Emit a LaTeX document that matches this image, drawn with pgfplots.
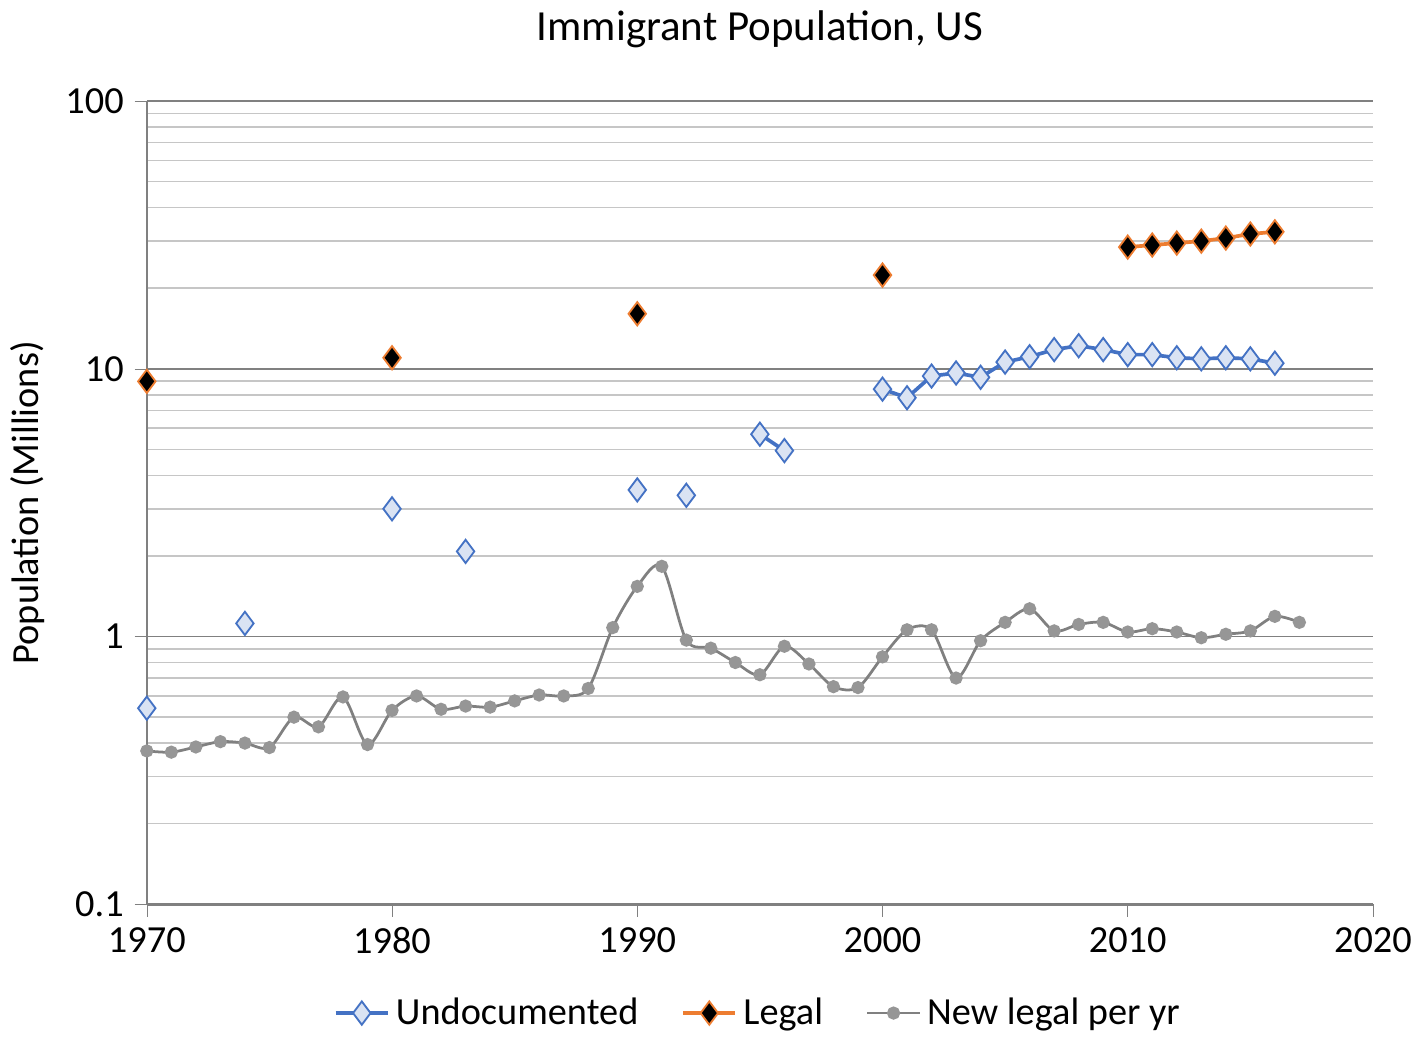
\documentclass[border=0pt]{standalone}
\usepackage{pgfplots}
\pgfplotsset{compat=1.18}
\usepackage{fontspec}
\setmainfont{Carlito}
\definecolor{ublue}{RGB}{68,114,196}
\definecolor{ufill}{RGB}{218,227,243}
\definecolor{lorange}{RGB}{237,125,49}
\definecolor{ngray}{RGB}{150,150,150}
\definecolor{gline}{RGB}{128,128,128}
\begin{document}
\begin{tikzpicture}
\begin{axis}[
  scale only axis, width=400pt, height=262pt,
  ymode=log, xmin=1970, xmax=2020, ymin=0.1, ymax=100,
  xtick={1970,1980,...,2020}, x tick label style={/pgf/number format/1000 sep={}},
  ytick={0.1,1,10,100}, yticklabels={0.1,1,10,100},
  log ticks with fixed point,
  /pgf/number format/assume math mode=true,
  ymajorgrids, yminorgrids,
  major grid style={gline, line width=0.6pt},
  minor grid style={gray!45, line width=0.5pt},
  axis x line*=bottom, axis y line*=left,
  axis line style={gline, line width=0.8pt},
  tick style={gline}, major tick length=4pt, minor tick length=0pt,
  xtick align=outside, ytick align=outside,
  every tick label/.append style={font=\fontsize{12.5}{14}\selectfont},
  ylabel={Population (Millions)}, ylabel style={font=\fontsize{12.5}{14}\selectfont},
  title={Immigrant Population, US}, title style={font=\fontsize{14}{16}\selectfont, yshift=8pt},
  unbounded coords=jump,
  legend style={at={(0.5,-0.1)}, anchor=north, draw=none, legend columns=-1,
    font=\fontsize{12.5}{14}\selectfont, /tikz/every even column/.append style={column sep=12pt}},
]
\addplot[ublue, line width=1.2pt, mark=diamond*, mark size=3.8pt, mark options={fill=ufill, draw=ublue, line width=0.6pt}] coordinates {
(1970,0.54) (1971,nan) (1974,1.12) (1975,nan) (1980,3.0) (1981,nan) (1983,2.08) (1984,nan)
(1990,3.53) (1991,nan) (1992,3.37) (1993,nan) (1995,5.7) (1996,4.95) (1997,nan)
(2000,8.4) (2001,7.8) (2002,9.4) (2003,9.65) (2004,9.3) (2005,10.6) (2006,11.1) (2007,11.8)
(2008,12.2) (2009,11.8) (2010,11.3) (2011,11.3) (2012,11.0) (2013,10.9) (2014,11.0) (2015,10.9) (2016,10.5)};
\addlegendentry{Undocumented}
\addplot[lorange, line width=1.2pt, mark=diamond*, mark size=3.8pt, mark options={fill=black, draw=lorange, line width=0.6pt}] coordinates {
(1970,8.98) (1971,nan) (1980,11.0) (1981,nan) (1990,16.06) (1991,nan) (2000,22.4) (2001,nan)
(2010,28.5) (2011,29.0) (2012,29.5) (2013,30.0) (2014,30.8) (2015,31.9) (2016,32.5)};
\addlegendentry{Legal}
\addplot[gline, line width=0.9pt, smooth, tension=0.5, mark=*, mark size=1.7pt, mark options={fill=ngray, draw=ngray}] coordinates {
(1970,0.374) (1971,0.37) (1972,0.387) (1973,0.405) (1974,0.40) (1975,0.385) (1976,0.50) (1977,0.46)
(1978,0.595) (1979,0.395) (1980,0.53) (1981,0.60) (1982,0.535) (1983,0.55) (1984,0.545) (1985,0.575)
(1986,0.605) (1987,0.60) (1988,0.64) (1989,1.08) (1990,1.54) (1991,1.83) (1992,0.97) (1993,0.905)
(1994,0.80) (1995,0.72) (1996,0.92) (1997,0.79) (1998,0.65) (1999,0.645) (2000,0.84) (2001,1.06)
(2002,1.06) (2003,0.70) (2004,0.965) (2005,1.13) (2006,1.27) (2007,1.05) (2008,1.11) (2009,1.13)
(2010,1.04) (2011,1.07) (2012,1.04) (2013,0.99) (2014,1.02) (2015,1.05) (2016,1.19) (2017,1.13)};
\addlegendentry{New legal per yr}
\end{axis}
\end{tikzpicture}
\end{document}
